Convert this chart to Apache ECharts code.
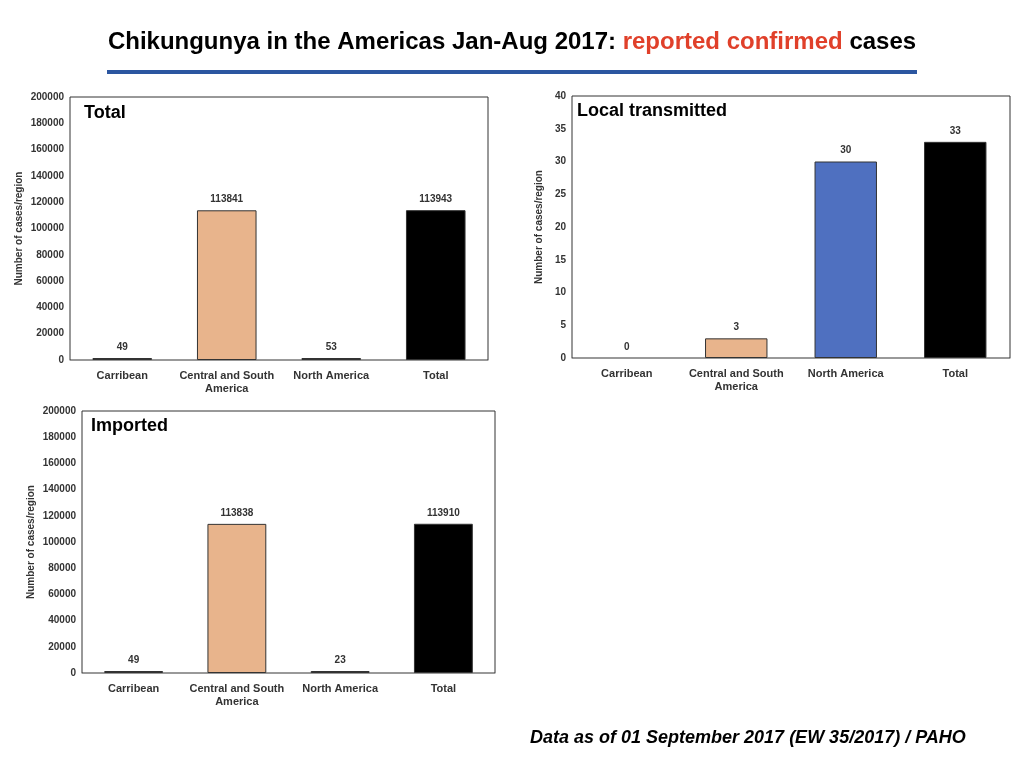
<!DOCTYPE html>
<html><head><meta charset="utf-8">
<script src="https://cdn.jsdelivr.net/npm/echarts@6/dist/echarts.min.js"></script>
<style>body{margin:0;background:#fff}#c{width:1024px;height:768px}</style>
</head><body><div id="c"></div>
<script>
const categories = ['Carribean', 'Central and South\nAmerica', 'North America', 'Total'];
const totalValues = [49, 113841, 53, 113943];
const localValues = [0, 3, 30, 33];
const importedValues = [49, 113838, 23, 113910];
const colorsTotal = ['#7f7f7f', '#e8b48c', '#7f7f7f', '#000000'];
const colorsLocal = ['#7f7f7f', '#e8b48c', '#4f70c0', '#000000'];

const chart = echarts.init(document.getElementById('c'));
const grids = [
  {left: 70, top: 97, width: 418, height: 263},
  {left: 572, top: 96, width: 438, height: 262},
  {left: 82, top: 411, width: 413, height: 262}
];
const yMax = [200000, 40, 200000], yInt = [20000, 5, 20000];
const titles = ['Total', 'Local transmitted', 'Imported'];
const dataSets = [totalValues, localValues, importedValues];
const colorSets = [colorsTotal, colorsLocal, colorsTotal];
const font = 'Helvetica, Arial, "Liberation Sans", sans-serif';

const option = {
  animation: false,
  textStyle: {fontFamily: font},
  grid: grids.map(g => Object.assign({show: true, borderColor: '#333', borderWidth: 1}, g)),
  xAxis: grids.map((g, i) => ({
    type: 'category', gridIndex: i, data: categories,
    axisLine: {lineStyle: {color: '#999'}}, axisTick: {show: false},
    axisLabel: {interval: 0, color: '#333', fontSize: 11, fontWeight: 'bold', margin: 9, lineHeight: 13}
  })),
  yAxis: grids.map((g, i) => ({
    type: 'value', gridIndex: i, min: 0, max: yMax[i], interval: yInt[i],
    name: 'Number of cases/region', nameLocation: 'middle',
    nameGap: i === 1 ? 28 : 46,
    nameTextStyle: {fontSize: 10, fontWeight: 'bold', color: '#333'},
    splitLine: {show: false}, axisLine: {show: false}, axisTick: {show: false},
    axisLabel: {color: '#333', fontSize: 10, fontWeight: 'bold', margin: 6, formatter: v => String(v)}
  })),
  series: dataSets.map((d, i) => ({
    type: 'bar', xAxisIndex: i, yAxisIndex: i, barWidth: '57%', barMinHeight: i === 1 ? 0 : 2,
    data: d.map((v, j) => ({value: v, itemStyle: {color: colorSets[i][j], borderColor: '#333', borderWidth: v === 0 ? 0 : 1}})),
    label: {show: true, position: 'top', distance: 6, color: '#333', fontSize: 10, fontWeight: 'bold'}
  })),
  graphic: [
    {type: 'text', left: 'center', top: 30, style: {rich: {a: {fontSize: 24, fontWeight: 'bold', fill: '#000', fontFamily: font}, r: {fontSize: 24, fontWeight: 'bold', fill: '#e0402a', fontFamily: font}}, text: '{a|Chikungunya in the Americas Jan-Aug 2017: }{r|reported confirmed}{a| cases}'}},
    {type: 'rect', shape: {x: 107, y: 70, width: 810, height: 4}, style: {fill: '#2b56a0'}},
    {type: 'text', left: 84, top: 104, style: {text: titles[0], fontSize: 18, fontWeight: 'bold', fill: '#000', fontFamily: font}},
    {type: 'text', left: 577, top: 102, style: {text: titles[1], fontSize: 18, fontWeight: 'bold', fill: '#000', fontFamily: font}},
    {type: 'text', left: 91, top: 417, style: {text: titles[2], fontSize: 18, fontWeight: 'bold', fill: '#000', fontFamily: font}},
    {type: 'text', left: 530, top: 729, style: {text: 'Data as of 01 September 2017 (EW 35/2017) / PAHO', fontSize: 18, fontWeight: 'bold', fontStyle: 'italic', fill: '#000', fontFamily: font}}
  ]
};
chart.setOption(option);
</script></body></html>
